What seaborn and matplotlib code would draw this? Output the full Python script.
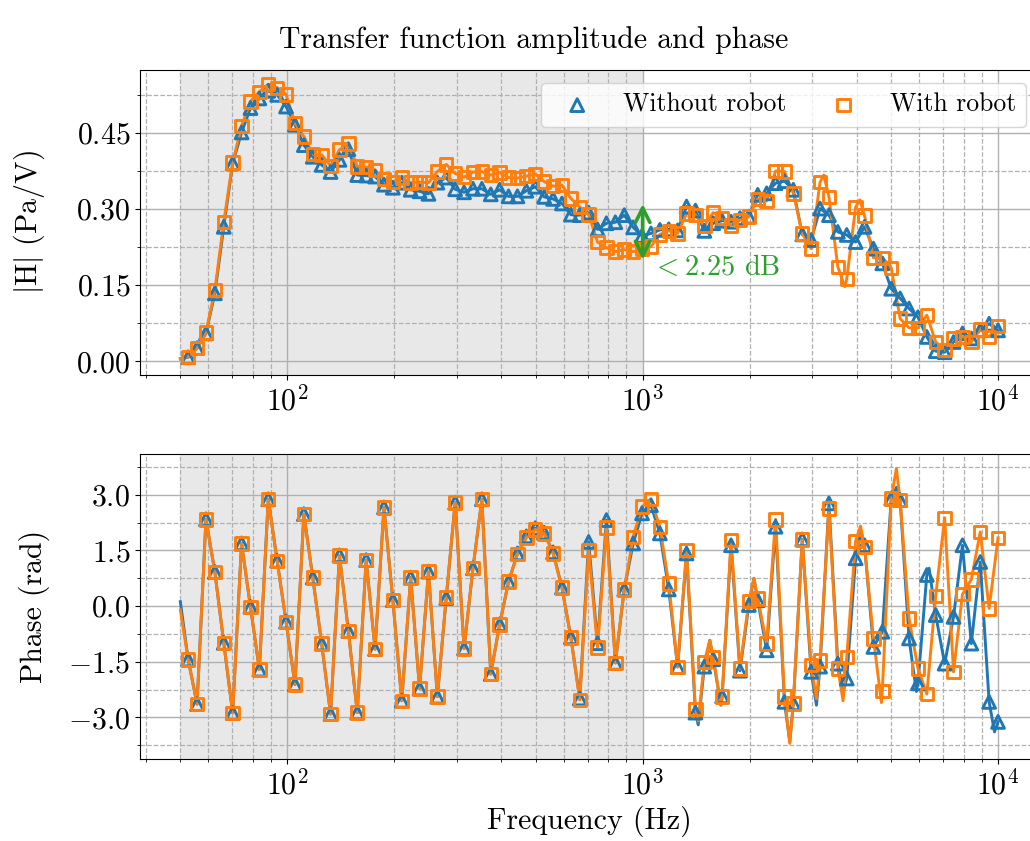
import numpy as np
import matplotlib
matplotlib.use("Agg")
import matplotlib.pyplot as plt
import seaborn as sns
from matplotlib.ticker import MultipleLocator, LogLocator, NullFormatter

# ---------------- data ----------------
freq = np.geomspace(52.6, 10000, 92)  # marker frequencies (log-spaced grid)

mag_without = [
    0.008, 0.026, 0.055, 0.134, 0.265, 0.390, 0.451, 0.499, 0.518, 0.533,
    0.525, 0.502, 0.466, 0.426, 0.403, 0.387, 0.373, 0.397, 0.418, 0.367,
    0.366, 0.364, 0.348, 0.342, 0.352, 0.338, 0.335, 0.330, 0.352, 0.362,
    0.339, 0.333, 0.340, 0.340, 0.329, 0.338, 0.325, 0.325, 0.336, 0.344,
    0.324, 0.320, 0.311, 0.289, 0.288, 0.293, 0.260, 0.272, 0.274, 0.288,
    0.264, 0.247, 0.252, 0.259, 0.260, 0.258, 0.305, 0.297, 0.257, 0.272,
    0.277, 0.275, 0.282, 0.285, 0.328, 0.331, 0.351, 0.355, 0.338, 0.250,
    0.239, 0.301, 0.288, 0.255, 0.249, 0.235, 0.265, 0.222, 0.193, 0.143,
    0.124, 0.104, 0.087, 0.048, 0.020, 0.018, 0.038, 0.055, 0.045, 0.061,
    0.074, 0.061]

mag_with = [
    0.009, 0.026, 0.057, 0.140, 0.275, 0.392, 0.464, 0.512, 0.531, 0.546,
    0.539, 0.526, 0.469, 0.443, 0.408, 0.407, 0.385, 0.417, 0.429, 0.384,
    0.383, 0.377, 0.359, 0.353, 0.362, 0.352, 0.353, 0.352, 0.374, 0.388,
    0.370, 0.363, 0.373, 0.374, 0.367, 0.372, 0.362, 0.361, 0.365, 0.369,
    0.354, 0.345, 0.347, 0.321, 0.304, 0.289, 0.235, 0.224, 0.216, 0.220,
    0.216, 0.221, 0.226, 0.250, 0.257, 0.252, 0.291, 0.288, 0.267, 0.293,
    0.282, 0.268, 0.278, 0.285, 0.320, 0.316, 0.375, 0.374, 0.331, 0.252,
    0.222, 0.353, 0.324, 0.186, 0.162, 0.304, 0.287, 0.204, 0.204, 0.184,
    0.084, 0.066, 0.066, 0.091, 0.038, 0.022, 0.045, 0.048, 0.038, 0.063,
    0.048, 0.070]

phase_without = [
    -1.44, -2.64, 2.34, 0.92, -0.99, -2.88, 1.69, -0.02, -1.71, 2.88,
    1.22, -0.42, -2.11, 2.48, 0.77, -1.01, -2.91, 1.37, -0.67, -2.87,
    1.24, -1.16, 2.66, 0.16, -2.55, 0.77, -2.22, 0.93, -2.44, 0.22,
    2.79, -1.14, 1.02, 2.88, -1.83, -0.49, 0.66, 1.42, 1.88, 2.10,
    1.98, 1.45, 0.50, -0.84, -2.49, 1.73, -1.00, 2.32, -1.53, 0.45,
    1.69, 2.50, 2.72, 1.96, 0.45, -1.64, 1.42, -2.87, -1.63, -1.43,
    -2.43, 1.64, -1.74, 0.03, 0.16, -1.19, 2.14, -2.58, -2.62, 1.80,
    -1.77, -1.63, 2.77, -1.55, -1.95, 1.29, 1.64, -1.10, -0.69, 2.90,
    2.86, -0.87, -2.08, 0.84, -0.24, -1.55, -0.29, 1.64, -1.01, 1.19,
    -2.58, -3.12]

phase_with = [
    -1.44, -2.64, 2.34, 0.92, -0.99, -2.88, 1.69, -0.02, -1.71, 2.88,
    1.22, -0.42, -2.11, 2.48, 0.77, -1.01, -2.91, 1.37, -0.67, -2.87,
    1.24, -1.16, 2.66, 0.16, -2.55, 0.77, -2.22, 0.95, -2.44, 0.25,
    2.79, -1.14, 1.02, 2.88, -1.83, -0.49, 0.66, 1.40, 1.85, 2.07,
    1.96, 1.42, 0.50, -0.84, -2.53, 1.51, -1.11, 2.12, -1.53, 0.45,
    1.87, 2.68, 2.88, 2.14, 0.61, -1.64, 1.51, -2.78, -1.50, -1.37,
    -2.43, 1.78, -1.68, 0.14, 0.21, -1.01, 2.34, -2.44, -2.62, 1.80,
    -1.59, -1.46, 2.63, -1.68, -1.37, 1.76, 1.60, -0.87, -2.28, 2.90,
    2.86, -0.33, -1.68, -2.37, 0.28, 2.38, -1.77, 0.32, 0.72, 2.00,
    -0.06, 1.84]

# extra points of the continuous curves (between markers)
mag_without_extra_f = [50]
mag_without_extra_v = [0.005]
mag_with_extra_f = [50, 3234, 3704, 4083]
mag_with_extra_v = [0.005, 0.367, 0.147, 0.318]

phase_without_extra_f = [50, 1433, 1545, 1660, 2056, 2594, 3083, 3664, 4102, 5176, 5890, 6398, 9772]
phase_without_extra_v = [0.12, -3.20, -0.92, -2.67, 0.75, -3.65, -2.67, -2.30, 1.95, 3.20, -2.30, 1.02, -3.39]
phase_with_extra_f = [50, 1433, 1545, 1660, 2056, 2594, 3083, 3664, 4102, 4697, 5176]
phase_with_extra_v = [-0.10, -3.10, -0.92, -2.67, 0.75, -3.70, -2.50, -2.55, 2.16, -2.60, 3.71]

labels = ["Without robot", "With robot"]
title = "Transfer function amplitude and phase"
blue, orange, green = "#1f77b4", "#ff7f0e", "#2ca02c"

# ---------------- style ----------------
plt.rcParams.update({
    "font.family": "serif",
    "font.serif": ["cmr10"],
    "mathtext.fontset": "cm",
    "axes.formatter.use_mathtext": True,
    "axes.unicode_minus": True,
    "font.size": 21.5,
})

W, H = 1030, 841
fig = plt.figure(figsize=(W / 100, H / 100), dpi=100)
left, right = 140 / W, 1039 / W
ax1 = fig.add_axes([left, 1 - 375 / H, right - left, 305 / H])
ax2 = fig.add_axes([left, 1 - 759 / H, right - left, 305 / H])


def curve(f, v, ef, ev):
    lf = np.concatenate([np.asarray(f, float), np.asarray(ef, float)])
    lv = np.concatenate([np.asarray(v, float), np.asarray(ev, float)])
    o = np.argsort(lf)
    return lf[o], lv[o]


def draw(ax, v1, e1f, e1v, v2, e2f, e2v, lab=True):
    for vals, ef, ev, col, mk, lb, sz in [
        (v1, e1f, e1v, blue, "^", labels[0], 85),
        (v2, e2f, e2v, orange, "s", labels[1], 80),
    ]:
        lf, lv = curve(freq, vals, ef, ev)
        sns.lineplot(x=lf, y=lv, ax=ax, color=col, lw=2.1, sort=False,
                     estimator=None, zorder=3)
        sns.scatterplot(x=freq, y=vals, ax=ax, marker=mk, s=sz,
                        facecolor="none", edgecolor=col, color=col,
                        linewidth=2.1, zorder=4, label=lb if lab else None)


draw(ax1, mag_without, mag_without_extra_f, mag_without_extra_v,
     mag_with, mag_with_extra_f, mag_with_extra_v)
draw(ax2, phase_without, phase_without_extra_f, phase_without_extra_v,
     phase_with, phase_with_extra_f, phase_with_extra_v, lab=False)

for ax in (ax1, ax2):
    ax.set_xscale("log")
    ax.set_xlim(38.5, 13040)
    ax.axvspan(50, 1000, facecolor="#e8e8e8", lw=0, zorder=0)
    ax.xaxis.set_major_locator(LogLocator(base=10))
    ax.xaxis.set_minor_locator(LogLocator(base=10, subs=np.arange(2, 10)))
    ax.xaxis.set_minor_formatter(NullFormatter())
    ax.grid(True, which="major", ls="-", color="#b0b0b0", lw=1.0)
    ax.grid(True, which="minor", ls="--", color="#b0b0b0", lw=0.9)
    ax.set_xlabel("")
    ax.tick_params(labelsize=21.5)

ax1.set_ylim(-0.027, 0.574)
ax1.yaxis.set_major_locator(MultipleLocator(0.15))
ax1.yaxis.set_minor_locator(MultipleLocator(0.075))
ax1.set_ylabel(r"$|\mathrm{H}|$ (Pa/V)", fontsize=21.5)
ax1.yaxis.set_label_coords((47 - 140) / 899, 0.5)

ax2.set_ylim(-4.12, 4.10)
ax2.yaxis.set_major_locator(MultipleLocator(1.5))
ax2.yaxis.set_minor_locator(MultipleLocator(0.75))
ax2.set_ylabel("Phase (rad)", fontsize=21.5)
ax2.yaxis.set_label_coords((50 - 140) / 899, 0.5)
ax2.set_xlabel("Frequency (Hz)", fontsize=21.5)

# difference arrow + text
ax1.annotate("", xy=(1000, 0.310), xytext=(1000, 0.200),
             arrowprops=dict(arrowstyle="<->", color=green, lw=2.6,
                             mutation_scale=26, shrinkA=0, shrinkB=0),
             zorder=6)
ax1.text(1062, 0.1835, r"$<2.25$ dB", color=green, fontsize=20.5,
         ha="left", va="center", zorder=6)

leg = ax1.legend(loc="upper right", ncol=2, fontsize=18.5, columnspacing=1.2)

fig.suptitle(title, x=534 / W, y=1 - 40 / H, va="center", fontsize=21.5)

fig.savefig("out.png", dpi=100)
